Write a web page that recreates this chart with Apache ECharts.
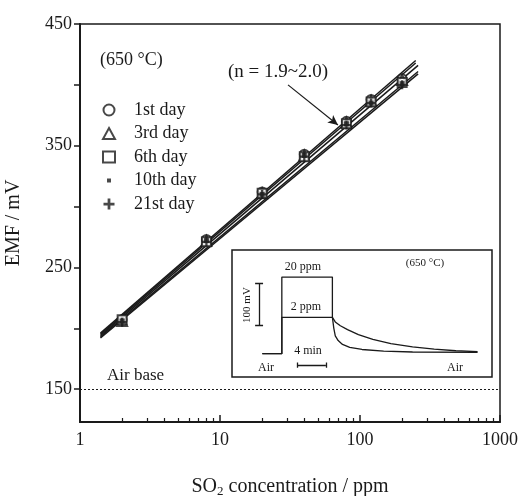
<!DOCTYPE html>
<html>
<head>
<meta charset="utf-8">
<script src="https://cdn.jsdelivr.net/npm/echarts@6/dist/echarts.min.js"></script>
<style>
  html, body { margin: 0; padding: 0; background: #fff; }
  #chart { width: 525px; height: 496px; }
</style>
</head>
<body>
<div id="chart"></div>
<script>
const SERIF = "'Liberation Serif', 'DejaVu Serif', serif";
const INK = "#1a1a1a";

// main plot: EMF vs SO2 concentration, measured on several days
const days = ["1st day", "3rd day", "6th day", "10th day", "21st day"];
const conc = [2, 8, 20, 40, 80, 120, 200];
const emf1st = [207, 273, 312, 343, 370, 388, 405];
const emf3rd = [206, 272, 311, 342, 369, 387, 404];
const emf6th = [207, 271, 311, 341, 368, 386, 402];
const emf10th = [206, 272, 310, 342, 368, 385, 401];
const emf21st = [205, 271, 310, 341, 367, 385, 400];
const emfAll = [emf1st, emf3rd, emf6th, emf10th, emf21st];

// fitted lines (start / end of each regression line)
const fitConc = [[1.4, 250], [1.4, 250], [1.4, 260], [1.4, 260], [1.4, 260]];
const fitEmf = [[196, 420], [195, 418], [194, 416], [193, 411], [192, 409]];

const airBase = 150;
const xMajor = [1, 10, 100, 1000];
const xMinor = [2, 3, 4, 5, 6, 7, 8, 9, 20, 30, 40, 50, 60, 70, 80, 90, 200, 300, 400, 500, 600, 700, 800, 900];
const yLabels = [150, 250, 350, 450];
const yTicks = [150, 200, 250, 300, 350, 400, 450];

// inset: response transients (time in min, EMF in mV, arbitrary offset)
const highT = [4.2, 6.9, 6.9, 13.9, 13.9, 14.3, 15, 16, 17.5, 19.5, 22, 25, 28, 31, 34];
const highV = [55, 55, 236, 236, 141, 130, 121, 112, 100, 89, 79, 71, 66, 62, 60];
const lowT = [4.2, 6.9, 6.9, 13.9, 14.1, 14.3, 14.7, 15.3, 16.3, 18, 21, 25, 34];
const lowV = [55, 55, 141, 141, 115, 97, 86, 77, 70, 65, 61, 59, 58];

const PLUS = "path://M3,0h2v3h3v2h-3v3h-2v-3h-3v-2h3z";
const symbols = ["emptyCircle", "emptyTriangle", "emptyRect", "rect", PLUS];
const symbolSizes = [9, 10, 9, 5, 9];
// legend icons: small filled square padded inside a 10x10 box
const legendIcons = [
  "emptyCircle",
  "emptyTriangle",
  "emptyRect",
  "path://M0,0h0.05v0.05h-0.05z M3.2,3.2h3.6v3.6h-3.6z M9.95,9.95h0.05v0.05h-0.05z",
  PLUS
];

const fitSeries = days.map((d, i) => ({
  type: "line",
  name: d + " fit",
  xAxisIndex: 0,
  yAxisIndex: 0,
  data: fitConc[i].map((c, k) => [c, fitEmf[i][k]]),
  symbol: "none",
  lineStyle: { color: INK, width: 1.5 },
  silent: true,
  z: 2
}));

fitSeries[0].markLine = {
  silent: true,
  symbol: ["none", "none"],
  label: { show: false },
  data: [
    { yAxis: airBase, lineStyle: { color: INK, type: [2, 2], width: 1 } },
    [
      { coord: [30.6, 400], symbol: "none" },
      { coord: [69.6, 367], symbol: "arrow", symbolSize: [7, 10] }
    ]
  ],
  lineStyle: { color: INK, type: "solid", width: 1.2 }
};

const pointSeries = days.map((d, i) => ({
  type: "scatter",
  name: d,
  xAxisIndex: 0,
  yAxisIndex: 0,
  data: conc.map((c, k) => [c, emfAll[i][k]]),
  symbol: symbols[i],
  symbolSize: symbolSizes[i],
  itemStyle: { color: INK, borderWidth: i < 3 ? 1.4 : 0 },
  z: 3
}));

const option = {
  backgroundColor: "#fff",
  animation: false,
  grid: [
    { left: 80, right: 25, top: 24, bottom: 74, outerBoundsMode: "none", show: true, borderColor: INK, borderWidth: 1.5, backgroundColor: "transparent" },
    { left: 232, top: 250, width: 260, height: 127, outerBoundsMode: "none", show: true, borderColor: INK, borderWidth: 1.5, backgroundColor: "#fff" }
  ],
  legend: {
    orient: "vertical",
    left: 97,
    top: 96,
    itemWidth: 12,
    itemHeight: 11,
    itemGap: 5.5,
    selectedMode: false,
    textStyle: { fontFamily: SERIF, fontSize: 18, color: INK, lineHeight: 17, padding: [0, 0, 0, 14] },
    data: days.map((d, i) => ({ name: d, icon: legendIcons[i] }))
  },
  xAxis: [
    {
      type: "log",
      logBase: 10,
      min: 1,
      max: 1000,
      gridIndex: 0,
      position: "bottom",
      name: "{a|SO}{b|2}{a| concentration / ppm}",
      nameLocation: "middle",
      nameGap: 54,
      nameTextStyle: {
        rich: {
          a: { fontFamily: SERIF, fontSize: 20, color: INK, lineHeight: 22 },
          b: { fontFamily: SERIF, fontSize: 13, color: INK, lineHeight: 22, padding: [9, 0, 0, 0] }
        }
      },
      axisLine: { lineStyle: { color: INK, width: 2 } },
      axisTick: { inside: true, length: 7, customValues: xMajor, lineStyle: { color: INK, width: 1.5 } },
      axisLabel: { customValues: xMajor, formatter: (v) => String(v), fontFamily: SERIF, fontSize: 18, color: INK, margin: 9 },
      splitLine: { show: false }
    },
    {
      type: "log",
      logBase: 10,
      min: 1,
      max: 1000,
      gridIndex: 0,
      position: "bottom",
      axisLine: { show: false },
      axisTick: { inside: true, length: 4, customValues: xMinor, lineStyle: { color: INK, width: 1.2 } },
      axisLabel: { show: false },
      splitLine: { show: false }
    },
    { type: "value", gridIndex: 1, min: 0, max: 36, show: false }
  ],
  yAxis: [
    {
      type: "value",
      min: 123,
      max: 450,
      gridIndex: 0,
      name: "EMF / mV",
      nameLocation: "middle",
      nameGap: 56,
      nameTextStyle: { fontFamily: SERIF, fontSize: 20, color: INK },
      axisLine: { lineStyle: { color: INK, width: 2 } },
      axisTick: { length: 6, customValues: yTicks, lineStyle: { color: INK, width: 1.5 } },
      axisLabel: { customValues: yLabels, fontFamily: SERIF, fontSize: 18, color: INK, margin: 8 },
      splitLine: { show: false }
    },
    { type: "value", gridIndex: 1, min: 0, max: 300, show: false }
  ],
  series: [
    ...fitSeries,
    ...pointSeries,
    {
      type: "line",
      name: "20 ppm",
      xAxisIndex: 2,
      yAxisIndex: 1,
      data: highT.map((t, k) => [t, highV[k]]),
      symbol: "none",
      lineStyle: { color: INK, width: 1.3 },
      silent: true
    },
    {
      type: "line",
      name: "2 ppm",
      xAxisIndex: 2,
      yAxisIndex: 1,
      data: lowT.map((t, k) => [t, lowV[k]]),
      symbol: "none",
      lineStyle: { color: INK, width: 1.3 },
      silent: true
    },
    {
      type: "lines",
      coordinateSystem: "cartesian2d",
      xAxisIndex: 2,
      yAxisIndex: 1,
      silent: true,
      lineStyle: { color: INK, width: 1.3, opacity: 1 },
      data: [
        { coords: [[3.74, 123], [3.74, 222]] },
        { coords: [[3.2, 222], [4.3, 222]] },
        { coords: [[3.2, 123], [4.3, 123]] },
        { coords: [[9, 28], [13, 28]] },
        { coords: [[9, 22], [9, 34]] },
        { coords: [[13, 22], [13, 34]] }
      ]
    }
  ],
  graphic: [
    { type: "text", left: 100, top: 51, style: { text: "(650 °C)", font: "18px " + SERIF, fill: INK } },
    { type: "text", left: 228, top: 63, style: { text: "(n = 1.9~2.0)", font: "19px " + SERIF, fill: INK } },
    { type: "text", left: 107, top: 367, style: { text: "Air base", font: "17px " + SERIF, fill: INK } },
    { type: "text", x: 303, y: 267, z: 10, style: { text: "20 ppm", font: "12px " + SERIF, fill: INK, align: "center", verticalAlign: "middle" } },
    { type: "text", x: 306, y: 307, z: 10, style: { text: "2 ppm", font: "12px " + SERIF, fill: INK, align: "center", verticalAlign: "middle" } },
    { type: "text", x: 425, y: 263, z: 10, style: { text: "(650 °C)", font: "11px " + SERIF, fill: INK, align: "center", verticalAlign: "middle" } },
    { type: "text", x: 247, y: 305, z: 10, rotation: Math.PI / 2, style: { text: "100 mV", font: "11px " + SERIF, fill: INK, align: "center", verticalAlign: "middle" } },
    { type: "text", x: 308, y: 351, z: 10, style: { text: "4 min", font: "12px " + SERIF, fill: INK, align: "center", verticalAlign: "middle" } },
    { type: "text", x: 266, y: 368, z: 10, style: { text: "Air", font: "12px " + SERIF, fill: INK, align: "center", verticalAlign: "middle" } },
    { type: "text", x: 455, y: 368, z: 10, style: { text: "Air", font: "12px " + SERIF, fill: INK, align: "center", verticalAlign: "middle" } }
  ]
};

const chart = echarts.init(document.getElementById("chart"), null, { renderer: "canvas" });
chart.setOption(option);
window.addEventListener("resize", () => chart.resize());
</script>
</body>
</html>
